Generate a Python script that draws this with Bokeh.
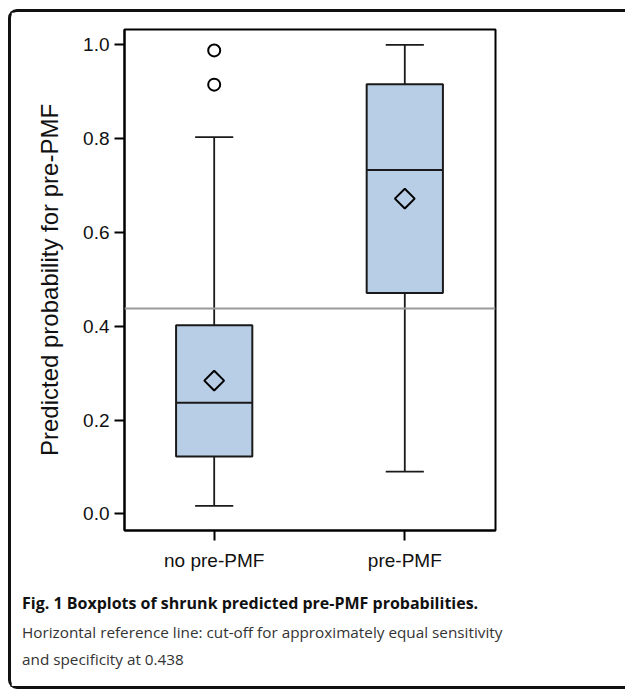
import math
from bokeh.plotting import figure
from bokeh.layouts import column
from bokeh.models import Range1d, FixedTicker, Span, Title, ColumnDataSource
from bokeh.embed import file_html
from bokeh.resources import INLINE

# ---- data ----
categories = ["no pre-PMF", "pre-PMF"]
q1 = [0.122, 0.471]
median = [0.237, 0.733]
q3 = [0.402, 0.916]
whisker_low = [0.017, 0.090]
whisker_high = [0.803, 1.000]
means = [0.284, 0.672]
outlier_group = [0, 0]
outlier_values = [0.988, 0.915]
cutoff = 0.438
y_ticks = [0.0, 0.2, 0.4, 0.6, 0.8, 1.0]
caption_title = "Fig. 1 Boxplots of shrunk predicted pre-PMF probabilities."
caption_body = ["Horizontal reference line: cut-off for approximately equal sensitivity",
                "and specificity at 0.438"]

OX, OY = 11, 12          # where the figure starts on the page
W, H = 614, 674
FL, FR, FT, FB = 124 - OX, 495 - OX, 29 - OY, 530 - OY  # frame edges in canvas px
X0, X1 = -0.4706, 1.4759
Y0, Y1 = -0.0356, 1.0326

p = figure(width=W, height=H, output_backend="svg", toolbar_location=None,
           x_range=Range1d(X0, X1), y_range=Range1d(Y0, Y1),
           min_border_left=FL, min_border_right=W - FR,
           min_border_top=FT, min_border_bottom=H - FB)
p.background_fill_color = "white"
p.border_fill_color = "white"
p.grid.visible = False
p.outline_line_color = "black"
p.outline_line_width = 2

xs = list(range(len(categories)))
src = ColumnDataSource(dict(x=xs, q1=q1, med=median, q3=q3, lo=whisker_low, hi=whisker_high, mean=means))

# whiskers
wc = "#1a1a1a"
p.segment(x0="x", y0="q3", x1="x", y1="hi", source=src, line_color=wc, line_width=1.8)
p.segment(x0="x", y0="q1", x1="x", y1="lo", source=src, line_color=wc, line_width=1.8)
cap = 0.1
src_caps = ColumnDataSource(dict(l=[x - cap for x in xs], r=[x + cap for x in xs], lo=whisker_low, hi=whisker_high))
p.segment(x0="l", y0="hi", x1="r", y1="hi", source=src_caps, line_color=wc, line_width=1.8)
p.segment(x0="l", y0="lo", x1="r", y1="lo", source=src_caps, line_color=wc, line_width=1.8)

# reference line
p.add_layout(Span(location=cutoff, dimension="width", line_color="#9a9a9a", line_width=2))

# boxes
p.vbar(x="x", bottom="q1", top="q3", width=0.4, source=src, fill_color="#b8cee6",
       line_color=wc, line_width=2)
src_med = ColumnDataSource(dict(l=[x - 0.2 for x in xs], r=[x + 0.2 for x in xs], m=median))
p.segment(x0="l", y0="m", x1="r", y1="m", source=src_med, line_color=wc, line_width=2)

# means (rotated square = equal-sided diamond)
p.scatter(x="x", y="mean", source=src, marker="square", size=14, angle=math.pi / 4,
          fill_alpha=0, line_color="black", line_width=2)
# outliers
p.scatter(x=[xs[g] for g in outlier_group], y=outlier_values, marker="circle", size=12,
          fill_color="white", line_color="black", line_width=2)

# axes
p.xaxis.ticker = FixedTicker(ticks=xs)
p.xaxis.major_label_overrides = {i: c for i, c in enumerate(categories)}
p.yaxis.ticker = FixedTicker(ticks=y_ticks)
p.yaxis.major_label_overrides = {t: f"{t:.1f}" for t in y_ticks}
for ax in (p.xaxis, p.yaxis):
    ax.major_tick_out = 10
    ax.major_tick_in = 0
    ax.minor_tick_line_color = None
    ax.major_tick_line_width = 2
    ax.major_tick_line_color = "black"
    ax.axis_line_width = 2
    ax.axis_line_color = "black"
    ax.major_label_text_font = "Liberation Sans"
    ax.major_label_text_font_size = "19px"
    ax.major_label_text_color = "#111111"
p.yaxis.major_label_standoff = 5
p.xaxis.major_label_standoff = 9
p.yaxis.axis_label = "Predicted probability for pre-PMF"
p.yaxis.axis_label_text_font = "Liberation Sans"
p.yaxis.axis_label_text_font_size = "24px"
p.yaxis.axis_label_text_font_style = "normal"
p.yaxis.axis_label_text_color = "#111111"
p.yaxis.axis_label_standoff = 17

# caption as titles below the axis
cap_items = [(caption_title, "bold", "#111111", "16px", 32),
             (caption_body[0], "normal", "#333333", "15.3px", -20),
             (caption_body[1], "normal", "#333333", "15.3px", 31)]
for txt, style, col, fs, so in cap_items:
    p.add_layout(Title(text=txt, align="left", offset=21.5 - 124, standoff=so,
                       text_font="Open Sans", text_font_style=style,
                       text_color=col, text_font_size=fs), "below")

layout = column(p, styles={
    "margin-left": "8px", "margin-top": "9px",
    "border-left": "3px solid #111", "border-top": "3px solid #111",
    "border-bottom": "3px solid #111",
    "border-top-left-radius": "9px", "border-bottom-left-radius": "9px",
})

open("out.html", "w").write(file_html(layout, INLINE))
